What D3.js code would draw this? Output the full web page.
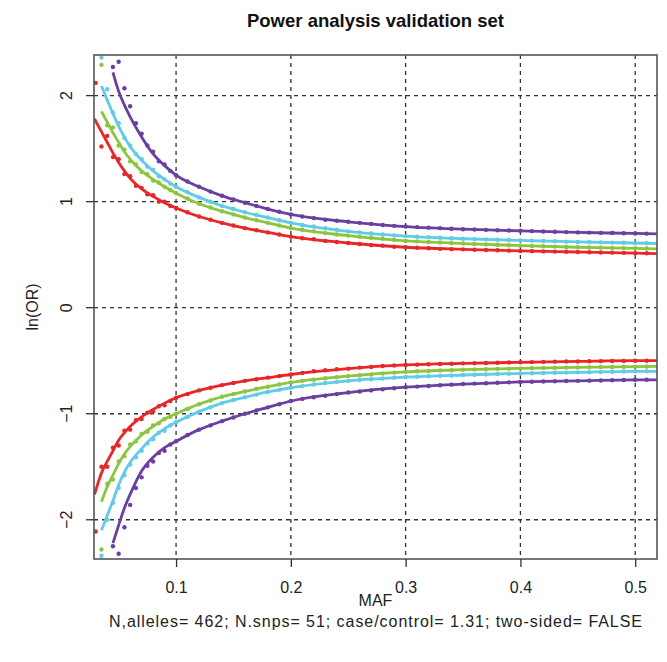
<!DOCTYPE html>
<html><head><meta charset="utf-8">
<script src="https://cdn.jsdelivr.net/npm/d3@7"></script>
<style>body{margin:0;background:#fff}svg{display:block}text{font-family:"Liberation Sans",Arial,Helvetica,sans-serif}</style>
</head><body>
<svg id="c" width="667" height="662"></svg>
<script>
// ---- data ----
const title = "Power analysis validation set";
const xLabel = "MAF";
const yLabel = "ln(OR)";
const subtitle = "N,alleles= 462; N.snps= 51; case/control= 1.31; two-sided= FALSE";
const xTicks = [0.1, 0.2, 0.3, 0.4, 0.5];
const xTickLabels = ["0.1", "0.2", "0.3", "0.4", "0.5"];
const yTicks = [-2, -1, 0, 1, 2];
const yTickLabels = ["\u22122", "\u22121", "0", "1", "2"];
const seriesNames = ["red", "green", "cyan", "purple"];
const seriesColors = ["#e8262a", "#8cc63f", "#62cbe6", "#6a3fa0"];

// theoretical curves (line)
const lineMaf = [0.029,0.035,0.04,0.045,0.05,0.055,0.06,0.07,0.08,0.09,0.10,0.12,0.14,0.16,0.18,0.20,0.25,0.30,0.35,0.40,0.45,0.50,0.52];
const lineUpRed    = [1.78,1.66,1.56,1.46,1.37,1.29,1.22,1.12,1.05,0.99,0.94,0.86,0.80,0.75,0.71,0.67,0.61,0.57,0.55,0.535,0.525,0.515,0.51];
const lineUpGreen  = [null,1.85,1.75,1.65,1.56,1.47,1.40,1.29,1.21,1.14,1.08,0.98,0.91,0.85,0.80,0.75,0.68,0.63,0.605,0.585,0.57,0.56,0.555];
const lineUpCyan   = [null,2.09,1.96,1.83,1.71,1.61,1.52,1.39,1.29,1.21,1.14,1.04,0.96,0.90,0.85,0.80,0.72,0.675,0.65,0.635,0.62,0.61,0.605];
const lineUpPurple = [null,null,null,2.22,2.04,1.91,1.80,1.61,1.45,1.34,1.25,1.14,1.055,0.99,0.93,0.88,0.81,0.765,0.74,0.725,0.71,0.70,0.695];
const lineLoRed    = [-1.76,-1.56,-1.45,-1.35,-1.25,-1.18,-1.12,-1.03,-0.96,-0.90,-0.85,-0.78,-0.73,-0.69,-0.66,-0.63,-0.575,-0.54,-0.525,-0.515,-0.507,-0.50,-0.50];
const lineLoGreen  = [null,-1.83,-1.69,-1.58,-1.47,-1.38,-1.31,-1.20,-1.12,-1.05,-1.00,-0.91,-0.84,-0.79,-0.745,-0.705,-0.645,-0.605,-0.585,-0.572,-0.563,-0.556,-0.553];
const lineLoCyan   = [null,-2.10,-1.96,-1.82,-1.67,-1.55,-1.46,-1.33,-1.22,-1.14,-1.08,-0.98,-0.90,-0.845,-0.795,-0.755,-0.69,-0.655,-0.635,-0.62,-0.61,-0.60,-0.60];
const lineLoPurple = [null,null,null,-2.22,-2.05,-1.89,-1.76,-1.54,-1.41,-1.32,-1.26,-1.15,-1.07,-1.00,-0.94,-0.88,-0.80,-0.75,-0.72,-0.70,-0.69,-0.68,-0.68];

// simulated points (dots)
const dotMaf = [0.03,0.035,0.04,0.045,0.05,0.055,0.06,0.065,0.07,0.075,0.08,0.085,0.09,0.095,
  0.10,0.11,0.12,0.13,0.14,0.15,0.16,0.17,0.18,0.19,0.20,0.21,0.22,0.23,0.24,0.25,0.26,0.27,0.28,0.29,
  0.30,0.31,0.32,0.33,0.34,0.35,0.36,0.37,0.38,0.39,0.40,0.41,0.42,0.43,0.44,0.45,0.46,0.47,0.48,0.49,0.50,0.51];
const dotUpRed = [2.12,1.52,1.62,1.42,1.40,1.26,1.24,1.15,1.13,1.07,1.06,1.00,1.00,0.96,
  0.94,0.90,0.86,0.83,0.80,0.775,0.75,0.73,0.71,0.69,0.67,0.655,0.645,0.63,0.62,0.61,0.60,0.59,0.585,0.575,
  0.57,0.565,0.56,0.555,0.552,0.55,0.547,0.544,0.541,0.538,0.535,0.533,0.531,0.529,0.527,0.525,0.523,0.521,0.519,0.517,0.515,0.513];
const dotUpGreen = [null,2.29,1.72,1.70,1.53,1.49,1.38,1.35,1.28,1.26,1.20,1.18,1.14,1.11,
  1.08,1.03,0.98,0.945,0.91,0.88,0.85,0.825,0.80,0.775,0.75,0.735,0.72,0.705,0.69,0.68,0.67,0.66,0.65,0.64,
  0.63,0.625,0.62,0.615,0.61,0.605,0.601,0.597,0.593,0.589,0.585,0.582,0.579,0.576,0.573,0.57,0.568,0.566,0.564,0.562,0.56,0.558];
const dotUpCyan = [null,2.36,2.06,1.84,1.74,1.60,1.53,1.45,1.40,1.33,1.30,1.24,1.21,1.17,
  1.14,1.09,1.04,1.00,0.96,0.93,0.90,0.875,0.85,0.825,0.80,0.78,0.765,0.75,0.735,0.72,0.71,0.70,0.69,0.682,
  0.675,0.67,0.665,0.66,0.655,0.65,0.647,0.644,0.641,0.638,0.635,0.632,0.629,0.626,0.623,0.62,0.618,0.616,0.614,0.612,0.61,0.608];
const dotUpPurple = [null,null,null,2.27,2.32,2.07,1.90,1.74,1.64,1.53,1.47,1.38,1.35,1.29,
  1.25,1.19,1.14,1.095,1.055,1.02,0.99,0.96,0.93,0.905,0.88,0.86,0.845,0.83,0.82,0.81,0.80,0.79,0.78,0.772,
  0.765,0.76,0.755,0.75,0.745,0.74,0.737,0.734,0.731,0.728,0.725,0.722,0.719,0.716,0.713,0.71,0.708,0.706,0.704,0.702,0.70,0.698];
const dotLoRed = [-2.11,-1.50,-1.50,-1.32,-1.30,-1.16,-1.15,-1.06,-1.05,-0.99,-0.98,-0.93,-0.92,-0.88,
  -0.85,-0.815,-0.78,-0.755,-0.73,-0.71,-0.69,-0.675,-0.66,-0.645,-0.63,-0.615,-0.60,-0.59,-0.58,-0.575,-0.565,-0.56,-0.55,-0.545,
  -0.54,-0.537,-0.534,-0.531,-0.528,-0.525,-0.523,-0.521,-0.519,-0.517,-0.515,-0.513,-0.511,-0.509,-0.508,-0.507,-0.505,-0.504,-0.503,-0.502,-0.50,-0.50];
const dotLoGreen = [null,-2.28,-1.66,-1.62,-1.45,-1.40,-1.29,-1.26,-1.19,-1.17,-1.11,-1.09,-1.05,-1.03,
  -1.00,-0.955,-0.91,-0.875,-0.84,-0.815,-0.79,-0.765,-0.745,-0.725,-0.705,-0.69,-0.68,-0.665,-0.655,-0.645,-0.637,-0.63,-0.62,-0.612,
  -0.605,-0.60,-0.597,-0.593,-0.589,-0.585,-0.582,-0.58,-0.577,-0.575,-0.572,-0.57,-0.568,-0.567,-0.565,-0.563,-0.562,-0.56,-0.559,-0.557,-0.556,-0.555];
const dotLoCyan = [null,-2.34,-2.00,-1.84,-1.70,-1.58,-1.48,-1.41,-1.35,-1.28,-1.24,-1.18,-1.16,-1.11,
  -1.08,-1.03,-0.98,-0.94,-0.90,-0.87,-0.845,-0.82,-0.795,-0.775,-0.755,-0.74,-0.725,-0.71,-0.70,-0.69,-0.682,-0.675,-0.668,-0.661,
  -0.655,-0.651,-0.647,-0.643,-0.639,-0.635,-0.632,-0.629,-0.626,-0.623,-0.62,-0.618,-0.616,-0.614,-0.612,-0.61,-0.608,-0.606,-0.604,-0.602,-0.60,-0.60];
const dotLoPurple = [null,null,null,-2.25,-2.32,-2.07,-1.86,-1.70,-1.60,-1.49,-1.45,-1.37,-1.35,-1.29,
  -1.26,-1.20,-1.15,-1.11,-1.07,-1.035,-1.00,-0.97,-0.94,-0.91,-0.88,-0.86,-0.845,-0.83,-0.815,-0.80,-0.79,-0.78,-0.77,-0.76,
  -0.75,-0.744,-0.738,-0.732,-0.726,-0.72,-0.716,-0.712,-0.708,-0.704,-0.70,-0.698,-0.696,-0.694,-0.692,-0.69,-0.688,-0.686,-0.684,-0.682,-0.68,-0.68];

const lineSets = [[lineUpRed,lineLoRed],[lineUpGreen,lineLoGreen],[lineUpCyan,lineLoCyan],[lineUpPurple,lineLoPurple]];
const dotSets  = [[dotUpRed,dotLoRed],[dotUpGreen,dotLoGreen],[dotUpCyan,dotLoCyan],[dotUpPurple,dotLoPurple]];

// ---- layout ----
const L = 94, R = 657, T = 55, B = 559;
const FONT = "Liberation Sans, Arial, sans-serif";
const svg = d3.select("#c");
const x = d3.scaleLinear().domain([0.0285, 0.519]).range([L, R]);
const y = d3.scaleLinear().domain([-2.37, 2.383]).range([B, T]);

svg.append("defs").append("clipPath").attr("id","clip")
  .append("rect").attr("x",L).attr("y",T).attr("width",R-L).attr("height",B-T);

// grid
const grid = svg.append("g").attr("stroke","#333").attr("stroke-width",1.3).attr("stroke-dasharray","4,4");
grid.selectAll("line.v").data(xTicks).join("line")
  .attr("x1",d=>x(d)).attr("x2",d=>x(d)).attr("y1",T).attr("y2",B);
grid.selectAll("line.h").data(yTicks).join("line")
  .attr("y1",d=>y(d)).attr("y2",d=>y(d)).attr("x1",L).attr("x2",R);

// data
const plot = svg.append("g").attr("clip-path","url(#clip)");
const lineGen = d3.line().defined(d=>d[1]!=null).x(d=>x(d[0])).y(d=>y(d[1])).curve(d3.curveMonotoneX);
seriesNames.forEach((name,i)=>{
  const col = seriesColors[i];
  lineSets[i].forEach(arr=>{
    const pts = lineMaf.map((m,j)=>[m,arr[j]]);
    plot.append("path").datum(pts).attr("d",lineGen)
      .attr("fill","none").attr("stroke",col).attr("stroke-width",2.8);
  });
  dotSets[i].forEach(arr=>{
    const pts = dotMaf.map((m,j)=>[m,arr[j]]).filter(d=>d[1]!=null);
    plot.append("g").selectAll("circle").data(pts).join("circle")
      .attr("cx",d=>x(d[0])).attr("cy",d=>y(d[1])).attr("r",2.2).attr("fill",col);
  });
});

// box
svg.append("rect").attr("x",L).attr("y",T).attr("width",R-L).attr("height",B-T)
  .attr("fill","none").attr("stroke","#555").attr("stroke-width",1.6);

// axes
const xAxis = d3.axisBottom(x).tickValues(xTicks).tickFormat((d,i)=>xTickLabels[i]).tickSize(8).tickPadding(15);
const gx = svg.append("g").attr("transform",`translate(0,${B})`).call(xAxis);
gx.select(".domain").remove();
gx.selectAll("line").attr("stroke","#333").attr("stroke-width",1.3);
gx.selectAll("text").attr("font-size",16).attr("fill","#222").attr("font-family",FONT);

const yAxis = d3.axisLeft(y).tickValues(yTicks).tickFormat((d,i)=>yTickLabels[i]).tickSize(8).tickPadding(0);
const gy = svg.append("g").attr("transform",`translate(${L},0)`).call(yAxis);
gy.select(".domain").remove();
gy.selectAll("line").attr("stroke","#333").attr("stroke-width",1.3);
gy.selectAll("text").attr("font-size",16).attr("fill","#222").attr("font-family",FONT)
  .attr("x",0).attr("dy",null).attr("text-anchor","middle")
  .attr("transform",d=>`translate(-28,${y(d)}) rotate(-90)`).attr("y",0)
  .attr("dominant-baseline","central");
gy.selectAll(".tick").attr("transform",null);
gy.selectAll(".tick line").attr("y1",d=>y(d)).attr("y2",d=>y(d));

// titles
svg.append("text").attr("x",(L+R)/2).attr("y",27).attr("text-anchor","middle")
  .attr("font-size",18.5).attr("font-weight","bold").attr("fill","#111").text(title);
svg.append("text").attr("x",(L+R)/2).attr("y",606).attr("text-anchor","middle")
  .attr("font-size",16).attr("fill","#222").text(xLabel);
svg.append("text").attr("x",(L+R)/2).attr("y",627).attr("text-anchor","middle")
  .attr("font-size",16).attr("fill","#222")
  .attr("textLength",533).attr("lengthAdjust","spacing").text(subtitle);
svg.append("text").attr("transform",`translate(38,${(T+B)/2}) rotate(-90)`).attr("text-anchor","middle")
  .attr("font-size",16).attr("fill","#222").text(yLabel);
</script>
</body></html>
